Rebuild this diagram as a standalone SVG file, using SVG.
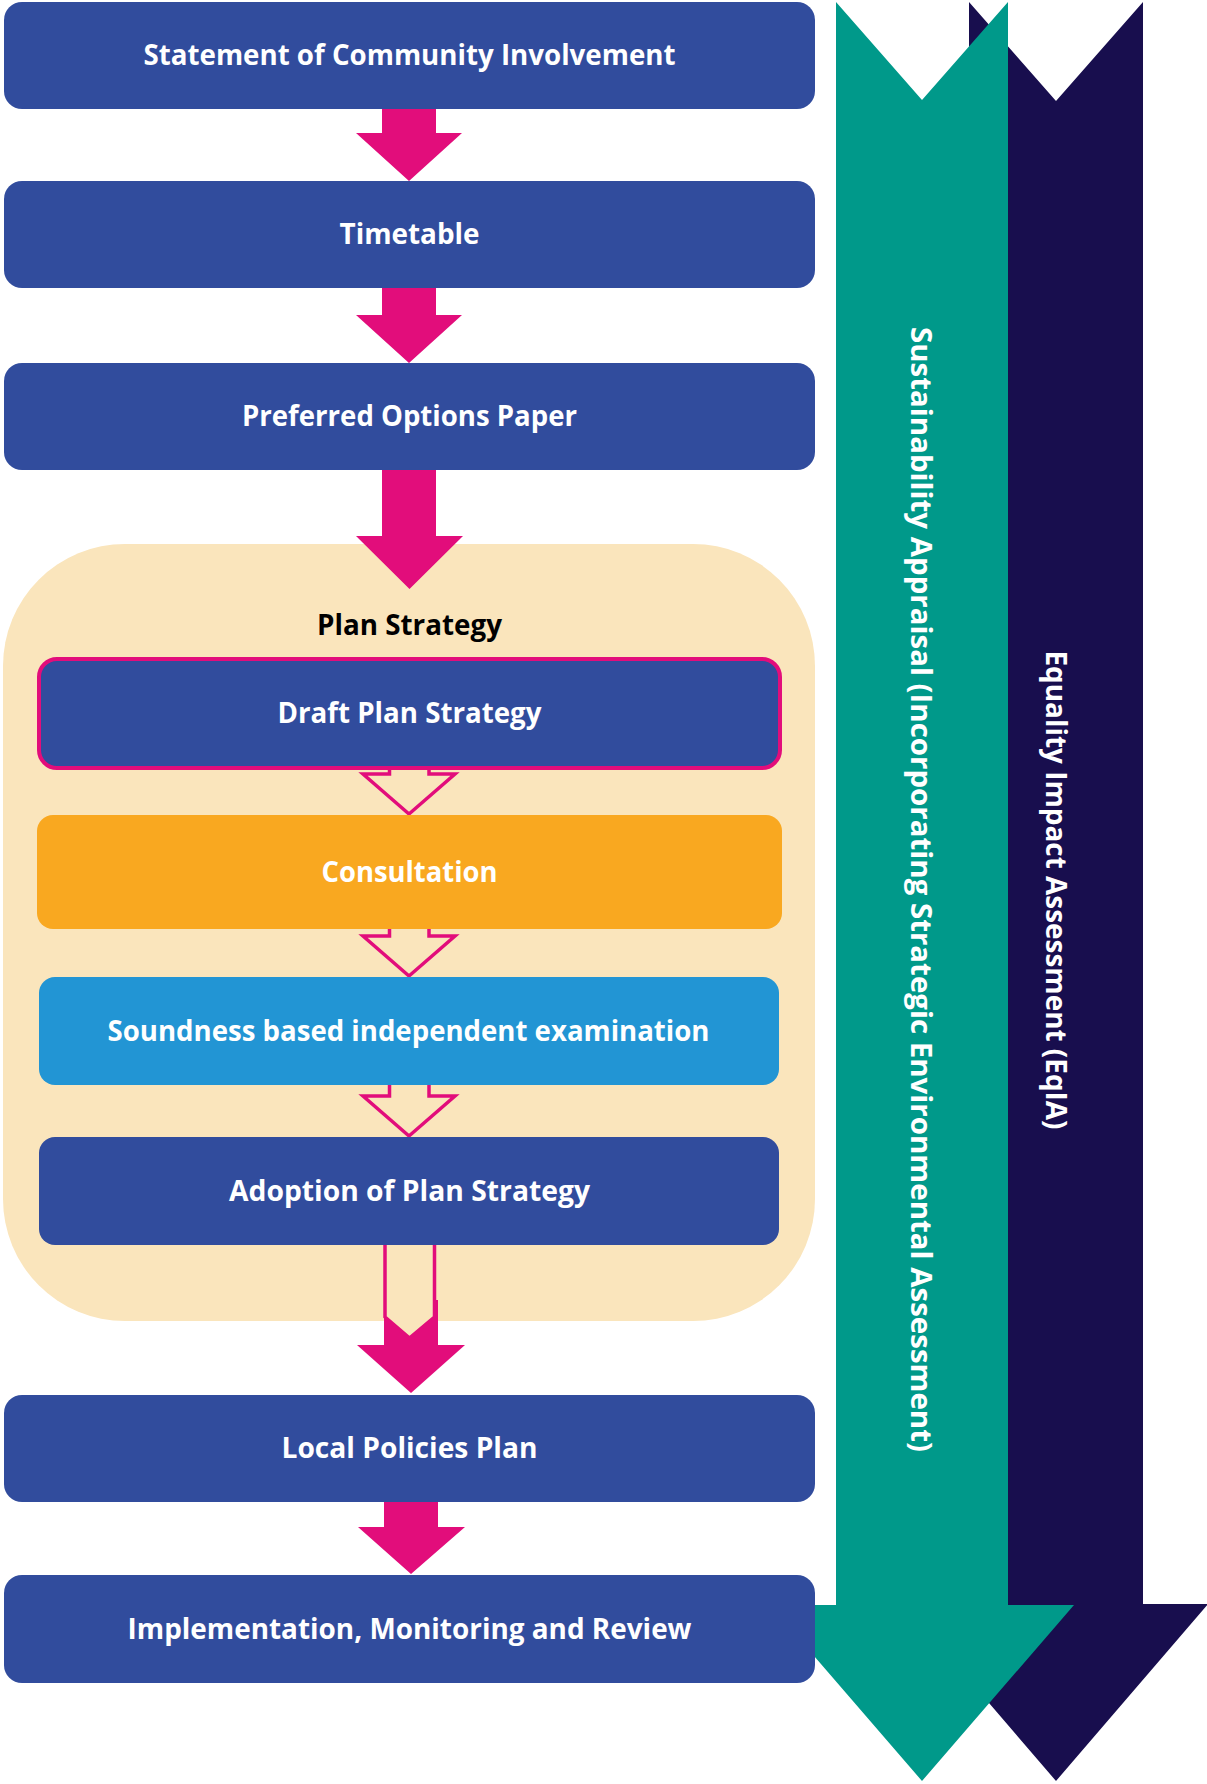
<svg xmlns="http://www.w3.org/2000/svg" width="1207" height="1784" viewBox="0 0 1207 1784">
<style>
.box{fill:#314C9D}
.lbl{font-family:"Open Sans","Noto Sans","DejaVu Sans",sans-serif;font-weight:700;font-size:28px;fill:#FFFFFF;text-anchor:middle}
.dark{fill:#000000}
.solid{fill:#E20D7B}
.hollow{fill:#FAE5BC;stroke:#E20D7B;stroke-width:3.5;stroke-linejoin:miter}
</style>
<rect width="1207" height="1784" fill="#FFFFFF"/>
<g id="equality-arrow">
<polygon points="969,2 1056,101 1143,2 1143,1604 1208,1604 1056,1781 904,1604 969,1604" fill="#180E4E"/>
<text class="lbl" transform="translate(1046,890) rotate(90)" x="0" y="0" textLength="479" lengthAdjust="spacingAndGlyphs">Equality Impact Assessment (EqIA)</text>
</g>
<g id="sustainability-arrow">
<polygon points="836,2 922,100 1008,2 1008,1605 1074,1605 922,1781 770,1605 836,1605" fill="#00998A"/>
<text class="lbl" transform="translate(911,889.5) rotate(90)" x="0" y="0" textLength="1125" lengthAdjust="spacingAndGlyphs">Sustainability Appraisal (Incorporating Strategic Environmental Assessment)</text>
</g>
<g id="plan-strategy">
<rect x="3" y="544" width="812" height="777" rx="122" fill="#FAE5BC"/>
<text class="lbl dark" x="409.5" y="635" textLength="185" lengthAdjust="spacingAndGlyphs">Plan Strategy</text>
</g>
<g id="connectors">
<polygon class="solid" points="382,105 436,105 436,133 462,133 409,181 356,133 382,133"/>
<polygon class="solid" points="382,284 436,284 436,315 462,315 409,363 356,315 382,315"/>
<polygon class="solid" points="382,466 436,466 436,536 463,536 409.5,589 356,536 382,536"/>
<polygon class="hollow" points="389.5,762 429,762 429,774 455,774 409,814 363,774 389.5,774"/>
<polygon class="hollow" points="389.5,925 429,925 429,936 455,936 409,976 363,936 389.5,936"/>
<polygon class="hollow" points="389.5,1081 429,1081 429,1096 455,1096 409,1136 363,1096 389.5,1096"/>
<polygon class="solid" points="384,1300 438,1300 438,1345 465,1345 411,1393 357,1345 384,1345"/>
<polygon class="hollow" points="385,1240 434.5,1240 434.5,1317 409.5,1338 385,1317"/>
<polygon class="solid" points="384,1498 438,1498 438,1527 465,1527 411,1574 358,1527 384,1527"/>
</g>
<g id="statement">
<rect class="box" x="4" y="2" width="811" height="107" rx="18"/>
<text class="lbl" x="409.5" y="65" textLength="532" lengthAdjust="spacingAndGlyphs">Statement of Community Involvement</text>
</g>
<g id="timetable">
<rect class="box" x="4" y="181" width="811" height="107" rx="18"/>
<text class="lbl" x="409.5" y="244" textLength="140" lengthAdjust="spacingAndGlyphs">Timetable</text>
</g>
<g id="preferred-options">
<rect class="box" x="4" y="363" width="811" height="107" rx="18"/>
<text class="lbl" x="409.5" y="426" textLength="335" lengthAdjust="spacingAndGlyphs">Preferred Options Paper</text>
</g>
<g id="draft-plan">
<rect x="39" y="659" width="741" height="109" rx="18" fill="#314C9D" stroke="#E20D7B" stroke-width="4"/>
<text class="lbl" x="409.5" y="723" textLength="264" lengthAdjust="spacingAndGlyphs">Draft Plan Strategy</text>
</g>
<g id="consultation">
<rect x="37" y="815" width="745" height="114" rx="16" fill="#F9A820"/>
<text class="lbl" x="409.5" y="882" textLength="176" lengthAdjust="spacingAndGlyphs">Consultation</text>
</g>
<g id="soundness">
<rect x="39" y="977" width="740" height="108" rx="16" fill="#2295D4"/>
<text class="lbl" x="408.5" y="1041" textLength="602" lengthAdjust="spacingAndGlyphs">Soundness based independent examination</text>
</g>
<g id="adoption">
<rect class="box" x="39" y="1137" width="740" height="108" rx="16"/>
<text class="lbl" x="409.5" y="1201" textLength="361" lengthAdjust="spacingAndGlyphs">Adoption of Plan Strategy</text>
</g>
<g id="local-policies">
<rect class="box" x="4" y="1395" width="811" height="107" rx="18"/>
<text class="lbl" x="409.5" y="1458" textLength="256" lengthAdjust="spacingAndGlyphs">Local Policies Plan</text>
</g>
<g id="implementation">
<rect class="box" x="4" y="1575" width="811" height="108" rx="18"/>
<text class="lbl" x="409.5" y="1639" textLength="564" lengthAdjust="spacingAndGlyphs">Implementation, Monitoring and Review</text>
</g>
</svg>
